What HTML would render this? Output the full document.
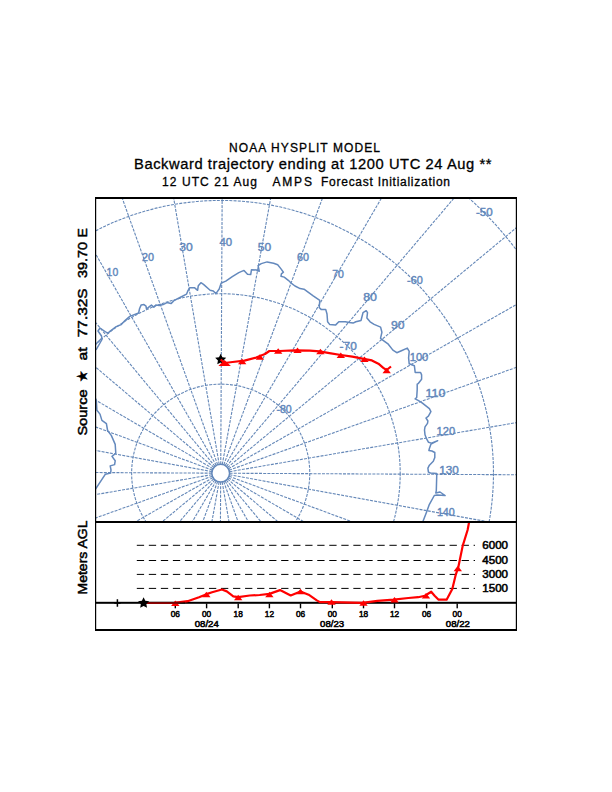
<!DOCTYPE html><html><head><meta charset="utf-8"><style>html,body{margin:0;padding:0;background:#fff;width:612px;height:792px;overflow:hidden}svg{display:block}text{font-family:"Liberation Sans",sans-serif}</style></head><body>
<svg width="612" height="792" viewBox="0 0 612 792">
<rect width="612" height="792" fill="#fff"/>
<text x="229" y="152.4" font-size="12" stroke="#000" stroke-width="0.3" textLength="151" lengthAdjust="spacing">NOAA HYSPLIT MODEL</text>
<text x="134" y="169.2" font-size="14.7" stroke="#000" stroke-width="0.3" textLength="357.5" lengthAdjust="spacing">Backward trajectory ending at 1200 UTC 24 Aug **</text>
<text x="162" y="186.4" font-size="12" stroke="#000" stroke-width="0.3" textLength="95" lengthAdjust="spacing">12 UTC 21 Aug</text>
<text x="272.4" y="186.4" font-size="12" stroke="#000" stroke-width="0.3" textLength="39.6" lengthAdjust="spacing">AMPS</text>
<text x="321" y="186.4" font-size="12" stroke="#000" stroke-width="0.3" textLength="129" lengthAdjust="spacing">Forecast Initialization</text>
<defs><clipPath id="mc"><rect x="96" y="199" width="420" height="322"/></clipPath><clipPath id="hc"><rect x="96" y="523" width="420" height="106"/></clipPath></defs>
<g clip-path="url(#mc)">
<circle cx="220.7" cy="473.2" r="8.88" fill="none" stroke="#6187bb" stroke-width="1.5"/>
<g fill="none" stroke="#6588b8" stroke-width="1.1" stroke-dasharray="3 1.2">
<circle cx="220.7" cy="473.2" r="89.06"/>
<circle cx="220.7" cy="473.2" r="179.50"/>
<circle cx="220.7" cy="473.2" r="272.77"/>
<circle cx="220.7" cy="473.2" r="370.52"/>
<line x1="215.03" y1="466.36" x2="-154.73" y2="20.99"/>
<line x1="216.30" y1="465.48" x2="-70.50" y2="-37.33"/>
<line x1="217.71" y1="464.84" x2="22.57" y2="-80.14"/>
<line x1="219.20" y1="464.44" x2="121.67" y2="-106.14"/>
<line x1="220.75" y1="464.32" x2="223.78" y2="-114.53"/>
<line x1="222.29" y1="464.46" x2="325.79" y2="-105.07"/>
<line x1="223.78" y1="464.87" x2="424.61" y2="-78.04"/>
<line x1="225.18" y1="465.53" x2="517.23" y2="-34.25"/>
<line x1="226.45" y1="466.42" x2="600.85" y2="24.95"/>
<line x1="227.54" y1="467.53" x2="672.91" y2="97.77"/>
<line x1="228.42" y1="468.80" x2="731.23" y2="182.00"/>
<line x1="229.06" y1="470.21" x2="774.04" y2="275.07"/>
<line x1="229.46" y1="471.70" x2="800.04" y2="374.17"/>
<line x1="229.58" y1="473.25" x2="808.43" y2="476.28"/>
<line x1="229.44" y1="474.79" x2="798.97" y2="578.29"/>
<line x1="229.03" y1="476.28" x2="771.94" y2="677.11"/>
<line x1="228.37" y1="477.68" x2="728.15" y2="769.73"/>
<line x1="227.48" y1="478.95" x2="668.95" y2="853.35"/>
<line x1="226.37" y1="480.04" x2="596.13" y2="925.41"/>
<line x1="225.10" y1="480.92" x2="511.90" y2="983.73"/>
<line x1="223.69" y1="481.56" x2="418.83" y2="1026.54"/>
<line x1="222.20" y1="481.96" x2="319.73" y2="1052.54"/>
<line x1="220.65" y1="482.08" x2="217.62" y2="1060.93"/>
<line x1="219.11" y1="481.94" x2="115.61" y2="1051.47"/>
<line x1="217.62" y1="481.53" x2="16.79" y2="1024.44"/>
<line x1="216.22" y1="480.87" x2="-75.83" y2="980.65"/>
<line x1="214.95" y1="479.98" x2="-159.45" y2="921.45"/>
<line x1="213.86" y1="478.87" x2="-231.51" y2="848.63"/>
<line x1="212.98" y1="477.60" x2="-289.83" y2="764.40"/>
<line x1="212.34" y1="476.19" x2="-332.64" y2="671.33"/>
<line x1="211.94" y1="474.70" x2="-358.64" y2="572.23"/>
<line x1="211.82" y1="473.15" x2="-367.03" y2="470.12"/>
<line x1="211.96" y1="471.61" x2="-357.57" y2="368.11"/>
<line x1="212.37" y1="470.12" x2="-330.54" y2="269.29"/>
<line x1="213.03" y1="468.72" x2="-286.75" y2="176.67"/>
<line x1="213.92" y1="467.45" x2="-227.55" y2="93.05"/>
</g>
<g fill="#6187bb" stroke="#6187bb" stroke-width="0.4" font-size="10.5">
<text x="106.6" y="276.3" textLength="11.6" lengthAdjust="spacingAndGlyphs">10</text>
<text x="141.9" y="261.0" textLength="12.0" lengthAdjust="spacingAndGlyphs">20</text>
<text x="179.2" y="251.0" textLength="13.5" lengthAdjust="spacingAndGlyphs">30</text>
<text x="219.4" y="246.3" textLength="12.7" lengthAdjust="spacingAndGlyphs">40</text>
<text x="257.8" y="250.7" textLength="13.4" lengthAdjust="spacingAndGlyphs">50</text>
<text x="296.9" y="261.0" textLength="12.0" lengthAdjust="spacingAndGlyphs">60</text>
<text x="332.2" y="277.6" textLength="11.7" lengthAdjust="spacingAndGlyphs">70</text>
<text x="363.2" y="300.7" textLength="13.8" lengthAdjust="spacingAndGlyphs">80</text>
<text x="391.1" y="329.0" textLength="13.5" lengthAdjust="spacingAndGlyphs">90</text>
<text x="409.7" y="360.7" textLength="18.6" lengthAdjust="spacingAndGlyphs">100</text>
<text x="425.5" y="396.5" textLength="19.8" lengthAdjust="spacingAndGlyphs">110</text>
<text x="436.6" y="435.2" textLength="18.6" lengthAdjust="spacingAndGlyphs">120</text>
<text x="439.2" y="474.2" textLength="19.6" lengthAdjust="spacingAndGlyphs">130</text>
<text x="436.9" y="516.0" textLength="17.9" lengthAdjust="spacingAndGlyphs">140</text>
<text x="276.4" y="413.3" textLength="15.4" lengthAdjust="spacingAndGlyphs">-80</text>
<text x="339.6" y="350.3" textLength="17.2" lengthAdjust="spacingAndGlyphs">-70</text>
<text x="407.0" y="284.3" textLength="15.8" lengthAdjust="spacingAndGlyphs">-60</text>
<text x="476.0" y="215.6" textLength="16.8" lengthAdjust="spacingAndGlyphs">-50</text>
</g>
<g fill="none" stroke="#6489bd" stroke-width="1.5" stroke-linejoin="round">
<polyline points="96,350 102,339.5 101.5,336 98,331 100,328 106.5,332.5 108,333 110.2,331.2 116.2,326.6 121.3,324.6 125,320.6 129.8,316.4 138.6,313 139.6,308.5 141.1,305.1 144,304.6 146,306.1 146.5,309 149.4,306.6 151.4,305.1 153.8,307.1 155.8,305.1 159.2,305.6 163.1,304.6 167,302.6 171,303.6 173.9,300.7 180,297.5 186.5,294.2 187.8,291 189.8,287.7 194.4,287.7 197.6,290.3 198.3,285.7 200.9,282.7 203.5,284.4 210.1,290.3 213.3,291 215.9,293.6 219.2,289 221.2,283.1 225.8,281.1 232.3,276.6 238.8,272.6 244,270.4 247.5,274.2 250.7,274.6 251.5,269.7 256.4,270 259.3,271.3 258.1,265.6 261.3,263.6 267.1,261.9 273.6,263.2 277.7,264.8 281,268.9 283.4,272.2 281.4,273.8 281,276.2 284.2,277.1 288.3,280.3 290.8,282.8 295,286 300.1,288.6 304,289.2 313.2,295.8 319.8,300.3 319.2,307.5 321.1,309.4 325.7,309.4 327,314 327.6,321.8 329.6,324.4 335.5,325.1 338.8,321.8 345.3,321.8 349.2,322.5 353.1,323.1 355.8,321.8 361,320.5 363,312.7 366.2,310.7 367.5,312.7 366.9,317.9 370.1,321.8 374.1,324.4 380.6,327.1 381.9,332.3 380.5,338.3 383.1,340.3 388.3,344.2 392.9,350.1 396.8,352.7 401.4,350.7 407.3,348.1 409.2,351.4 408.6,357.9 409.2,363.8 414.4,365.8 415.2,372.5 420.6,372.5 421.6,374.9 421.6,379.3 418.1,383.7 417.2,384.2 417.2,389.6 416.7,397.5 415.2,398.9 418.1,400.4 422.1,402.8 429.4,408.7 430.9,411.7 428.4,416.1 426,418 427.9,421 427.5,423.4 425,426.9 424.5,430 425,434.8 426.5,438.7 428.4,442.2 431.4,443.1 437.7,440.7 431,444 429.4,448.5 428.9,450.5 431.9,451 434.8,452.5 434.8,457.4 433.3,461.3 429.4,465.2 427.9,468.1 428.4,472.1 430.4,473 436.8,473.5 436.3,490.6 435.8,493 440,492 445.1,495.5 437,495 434.3,495.5 429.4,504.3 426.5,512.2 423.5,520 422,524"/>
<polyline points="93,394 96.3,400.2 96.9,410.3 100,414.1 101.9,420.4 106.4,423.6 107.6,430.5 111.4,435.6 115.2,444.4 115.8,453.2 112,456.4 115.2,460.8 114.6,464.6 110.2,465.9 111,470 110.6,473.1 105.4,474.2 95.7,488.8 94,491"/>
<polyline points="96,344 101.5,338.5"/>
</g>
<polygon points="220.70,353.80 222.40,357.25 226.22,357.81 223.46,360.50 224.11,364.29 220.70,362.50 217.29,364.29 217.94,360.50 215.18,357.81 219.00,357.25" fill="#000"/>
<polyline points="220.7,359.5 224.5,363 232.6,362 244.4,360.6 256.2,357.6 265,354 269.4,351 279.7,351 294.4,350.3 309.8,350.6 319.6,351.4 329.4,353.1 340.8,355 352.3,356.7 363.7,358.8 371.9,360.4 378.4,363.7 383.3,367.8 386.6,370 391,366.5" fill="none" stroke="#f00" stroke-width="2.2" stroke-linejoin="round"/>
<g fill="#f00">
<path d="M218.35,366.10 L224.60,359.90 L230.85,366.10Z"/>
<path d="M238.00,364.20 L242.20,358.80 L246.40,364.20Z"/>
<path d="M255.70,359.70 L259.90,354.30 L264.10,359.70Z"/>
<path d="M274.00,353.70 L278.20,348.30 L282.40,353.70Z"/>
<path d="M293.30,353.00 L297.50,347.60 L301.70,353.00Z"/>
<path d="M316.20,354.20 L320.40,348.80 L324.60,354.20Z"/>
<path d="M336.60,358.00 L340.80,352.60 L345.00,358.00Z"/>
<path d="M360.30,362.00 L364.50,356.60 L368.70,362.00Z"/>
<path d="M382.50,373.20 L386.70,367.80 L390.90,373.20Z"/>
</g>
</g>
<g stroke="#000" stroke-width="1" stroke-dasharray="7.3 4.73" fill="none">
<line x1="136.8" y1="545.3" x2="475" y2="545.3"/>
<line x1="136.8" y1="560.5" x2="475" y2="560.5"/>
<line x1="136.8" y1="574.4" x2="475" y2="574.4"/>
<line x1="136.8" y1="588.4" x2="475" y2="588.4"/>
</g>
<g font-size="10" fill="#000" stroke="#000" stroke-width="0.5">
<text x="482.3" y="549" textLength="25.7" lengthAdjust="spacingAndGlyphs">6000</text>
<text x="482.3" y="563.7" textLength="25.7" lengthAdjust="spacingAndGlyphs">4500</text>
<text x="482.3" y="577.8" textLength="25.7" lengthAdjust="spacingAndGlyphs">3000</text>
<text x="482.3" y="591.9" textLength="25.7" lengthAdjust="spacingAndGlyphs">1500</text>
</g>
<rect x="96" y="601.8" width="420" height="2" fill="#000"/>
<g fill="#000">
<rect x="174.6" y="603.5" width="1.4" height="4.8"/>
<rect x="205.9" y="603.5" width="1.4" height="4.8"/>
<rect x="237.5" y="603.5" width="1.4" height="4.8"/>
<rect x="268.7" y="603.5" width="1.4" height="4.8"/>
<rect x="299.8" y="603.5" width="1.4" height="4.8"/>
<rect x="331.6" y="603.5" width="1.4" height="4.8"/>
<rect x="362.8" y="603.5" width="1.4" height="4.8"/>
<rect x="393.8" y="603.5" width="1.4" height="4.8"/>
<rect x="425.9" y="603.5" width="1.4" height="4.8"/>
<rect x="456.5" y="603.5" width="1.4" height="4.8"/>
</g>
<g font-size="8.3" fill="#000" stroke="#000" stroke-width="0.5" text-anchor="middle">
<text x="175.3" y="616.8">06</text>
<text x="206.6" y="616.8">00</text>
<text x="238.2" y="616.8">18</text>
<text x="269.4" y="616.8">12</text>
<text x="300.5" y="616.8">06</text>
<text x="332.3" y="616.8">00</text>
<text x="363.5" y="616.8">18</text>
<text x="394.5" y="616.8">12</text>
<text x="426.6" y="616.8">06</text>
<text x="457.2" y="616.8">00</text>
<text x="206.75" y="626.6" textLength="24" lengthAdjust="spacingAndGlyphs">08/24</text>
<text x="332.05" y="626.6" textLength="24" lengthAdjust="spacingAndGlyphs">08/23</text>
<text x="457.8" y="626.6" textLength="24" lengthAdjust="spacingAndGlyphs">08/22</text>
</g>
<g clip-path="url(#hc)">
<polyline points="143.6,603 174.5,602.9 187.6,601.2 199,597.2 207.2,593.9 212.1,592.3 221.9,589.5 226.8,591.4 233.3,596.3 238.2,597.2 249.8,595.5 259.6,595 269.4,593.9 280,590.1 290.7,595.5 300.5,591.4 308.6,594.7 316.8,600.4 320,602.1 331.5,602.1 362.7,602.9 377.4,600.9 393.7,599.6 408.4,598 418.2,597.2 424.9,595.7 431.2,591.7 434.6,595.7 438.6,599.7 446.6,599.7 452.3,588.9 455.8,574.6 458.4,566.8 462.7,545.9 467.6,530 469.5,520" fill="none" stroke="#f00" stroke-width="2.2" stroke-linejoin="round"/>
<g fill="#f00">
<path d="M171.10,605.90 L175.30,600.50 L179.50,605.90Z"/>
<path d="M202.20,597.20 L206.40,591.80 L210.60,597.20Z"/>
<path d="M234.00,600.20 L238.20,594.80 L242.40,600.20Z"/>
<path d="M265.20,597.20 L269.40,591.80 L273.60,597.20Z"/>
<path d="M296.30,594.20 L300.50,588.80 L304.70,594.20Z"/>
<path d="M327.30,604.70 L331.50,599.30 L335.70,604.70Z"/>
<path d="M359.30,605.70 L363.50,600.30 L367.70,605.70Z"/>
<path d="M390.30,602.50 L394.50,597.10 L398.70,602.50Z"/>
<path d="M421.80,598.50 L426.00,593.10 L430.20,598.50Z"/>
<path d="M453.60,571.20 L457.80,565.80 L462.00,571.20Z"/>
</g></g>
<rect x="145" y="601.8" width="40" height="2" fill="#000" opacity="0.55"/>
<polygon points="143.60,597.20 145.30,600.65 149.12,601.21 146.36,603.90 147.01,607.69 143.60,605.90 140.19,607.69 140.84,603.90 138.08,601.21 141.90,600.65" fill="#000"/>
<path d="M114.2,603H120.6M117.4,599.3V606.7" stroke="#000" stroke-width="1.5"/>
<g fill="#000">
<rect x="95" y="197" width="422" height="2"/>
<rect x="95" y="197" width="1.2" height="434"/>
<rect x="515.8" y="197" width="1.2" height="434"/>
<rect x="95" y="521" width="422" height="2"/>
<rect x="95" y="629" width="422" height="2"/>
</g>
<text transform="translate(87.2,435.6) rotate(-90)" font-size="13.5" stroke="#000" stroke-width="0.5" textLength="46.2" lengthAdjust="spacingAndGlyphs">Source</text>
<text transform="translate(87.2,382.3) rotate(-90)" font-size="13.5" stroke="#000" stroke-width="0.5" textLength="11.9" lengthAdjust="spacingAndGlyphs">★</text>
<text transform="translate(87.2,360.6) rotate(-90)" font-size="13.5" stroke="#000" stroke-width="0.5" textLength="13.2" lengthAdjust="spacingAndGlyphs">at</text>
<text transform="translate(87.2,337.20000000000005) rotate(-90)" font-size="13.5" stroke="#000" stroke-width="0.5" textLength="48.8" lengthAdjust="spacingAndGlyphs">77.32S</text>
<text transform="translate(87.2,278.1) rotate(-90)" font-size="13.5" stroke="#000" stroke-width="0.5" textLength="36.0" lengthAdjust="spacingAndGlyphs">39.70</text>
<text transform="translate(87.2,237.5) rotate(-90)" font-size="13.5" stroke="#000" stroke-width="0.5" textLength="9.4" lengthAdjust="spacingAndGlyphs">E</text>
<text transform="translate(87,594.5) rotate(-90)" font-size="13" stroke="#000" stroke-width="0.5" textLength="74" lengthAdjust="spacingAndGlyphs">Meters AGL</text>
</svg></body></html>
